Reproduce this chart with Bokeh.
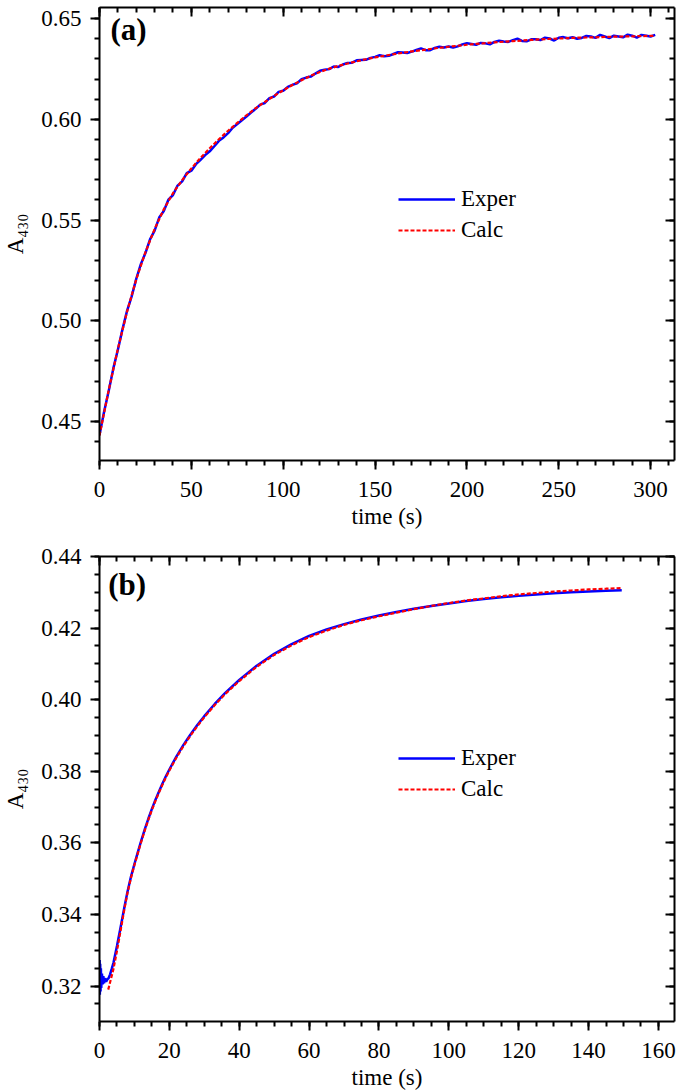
from bokeh.plotting import figure
from bokeh.layouts import column
from bokeh.models import (LinearAxis, SingleIntervalTicker, NumeralTickFormatter,
                          Range1d, Legend, LegendItem, Label)
from bokeh.embed import file_html
from bokeh.resources import INLINE

# ---------------- panel (a) data ----------------
t_calc_a = [0, 5, 10, 15, 20, 25, 30, 35, 40, 45, 50, 55, 60, 65, 70, 75, 80, 85, 90, 95,
            100, 105, 110, 115, 120, 125, 130, 135, 140, 145, 150, 155, 160, 165, 170,
            175, 180, 185, 190, 195, 200, 205, 210, 215, 220, 225, 230, 235, 240, 245,
            250, 255, 260, 265, 270, 275, 280, 285, 290, 295, 300, 302]
calc_a = [0.443, 0.4655, 0.486, 0.5045, 0.5205, 0.534, 0.5455, 0.5553, 0.5633, 0.5698,
          0.5756, 0.5808, 0.5856, 0.5901, 0.5943, 0.5982, 0.602, 0.6055, 0.6086, 0.6116,
          0.6144, 0.617, 0.6194, 0.6216, 0.6235, 0.6251, 0.6265, 0.6277, 0.6288, 0.6298,
          0.6307, 0.6315, 0.6323, 0.633, 0.6337, 0.6343, 0.6349, 0.6355, 0.636, 0.6365,
          0.637, 0.6374, 0.6378, 0.6382, 0.6385, 0.6388, 0.6391, 0.6394, 0.6397, 0.6399,
          0.6401, 0.6403, 0.6405, 0.6406, 0.6407, 0.6409, 0.641, 0.6411, 0.6412, 0.6413,
          0.6414, 0.6414]
t_exp_a = [0, 2.5, 5, 7.5, 10, 12.5, 15, 17.5, 20, 22.5, 25, 27.5, 30, 32.5, 35, 37.5,
           40, 42.5, 45, 47.5, 50, 52.5, 55, 57.5, 60, 62.5, 65, 67.5, 70, 72.5, 75, 77.5,
           80, 82.5, 85, 87.5, 90, 92.5, 95, 97.5, 100, 102.5, 105, 107.5, 110, 112.5,
           115, 117.5, 120, 122.5, 125, 127.5, 130, 132.5, 135, 137.5, 140, 142.5, 145,
           147.5, 150, 152.5, 155, 157.5, 160, 162.5, 165, 167.5, 170, 172.5, 175, 177.5,
           180, 182.5, 185, 187.5, 190, 192.5, 195, 197.5, 200, 202.5, 205, 207.5, 210,
           212.5, 215, 217.5, 220, 222.5, 225, 227.5, 230, 232.5, 235, 237.5, 240, 242.5,
           245, 247.5, 250, 252.5, 255, 257.5, 260, 262.5, 265, 267.5, 270, 272.5, 275,
           277.5, 280, 282.5, 285, 287.5, 290, 292.5, 295, 297.5, 300, 302.5]
exper_a = [0.4432, 0.4548, 0.4651, 0.4762, 0.4856, 0.4957, 0.5049, 0.5121, 0.5208, 0.5281,
           0.5336, 0.5404, 0.5447, 0.5512, 0.5545, 0.5601, 0.5624, 0.5671, 0.5692, 0.5733,
           0.5745, 0.5777, 0.5799, 0.5822, 0.5841, 0.5866, 0.5893, 0.591, 0.5931, 0.5958,
           0.5976, 0.5995, 0.6014, 0.6034, 0.6052, 0.6073, 0.6081, 0.6105, 0.6113, 0.6136,
           0.6142, 0.6161, 0.6171, 0.6179, 0.6199, 0.6207, 0.6212, 0.6227, 0.6241, 0.6246,
           0.6249, 0.6262, 0.626, 0.6272, 0.628, 0.6281, 0.6293, 0.6294, 0.6295, 0.6305,
           0.631, 0.6318, 0.6313, 0.6315, 0.6324, 0.6333, 0.6332, 0.6329, 0.6336, 0.6344,
           0.6352, 0.6343, 0.6343, 0.6354, 0.636, 0.6356, 0.6361, 0.6356, 0.6362, 0.6372,
           0.6378, 0.6374, 0.637, 0.6379, 0.6377, 0.6372, 0.6384, 0.639, 0.6386, 0.6384,
           0.6393, 0.64, 0.6389, 0.6387, 0.6397, 0.6397, 0.6393, 0.6405, 0.6401, 0.6391,
           0.6405, 0.6408, 0.6402, 0.6407, 0.64, 0.6404, 0.6414, 0.6411, 0.6404, 0.6419,
           0.6411, 0.6403, 0.6415, 0.6411, 0.6407, 0.642, 0.6415, 0.6405, 0.6419, 0.6415,
           0.6411, 0.6419]

# ---------------- panel (b) data ----------------
t_calc_b = [2.5, 4, 5, 6, 7, 8, 9, 10, 11, 12, 13, 14, 15, 16, 17, 18, 19, 20, 22, 24,
            26, 28, 30, 33, 36, 40, 45, 50, 55, 60, 65, 70, 75, 80, 85, 90, 95, 100, 105,
            110, 115, 120, 125, 130, 135, 140, 145, 149.5]
calc_b = [0.319, 0.3248, 0.3298, 0.3353, 0.3408, 0.346, 0.3502, 0.3538, 0.3572, 0.3605,
          0.3636, 0.3665, 0.3692, 0.3717, 0.374, 0.3762, 0.3783, 0.3802, 0.3838, 0.387,
          0.3899, 0.3926, 0.3951, 0.3985, 0.4016, 0.4052, 0.4092, 0.4125, 0.4152, 0.4175,
          0.4193, 0.4209, 0.4222, 0.4233, 0.4243, 0.4253, 0.4262, 0.427, 0.4277, 0.4283,
          0.4289, 0.4294, 0.4298, 0.4302, 0.4305, 0.4308, 0.431, 0.4312]
t_exp_b = [0, 0.05, 0.1, 0.2, 0.3, 0.4, 0.5, 0.7, 0.9, 1.1, 1.3, 1.6, 1.9, 2.2, 2.6, 3.0,
           3.5, 4, 5, 6, 7, 8, 9, 10, 11, 12, 13, 14, 15, 16, 17, 18, 19, 20, 22, 24, 26,
           28, 30, 33, 36, 40, 45, 50, 55, 60, 65, 70, 75, 80, 85, 90, 95, 100, 105, 110,
           115, 120, 125, 130, 135, 140, 145, 149.5]
exper_b = [0.3215, 0.3273, 0.3176, 0.3262, 0.3185, 0.325, 0.3195, 0.3235, 0.3205, 0.3228,
           0.3208, 0.3222, 0.3212, 0.3218, 0.3222, 0.3232, 0.3248, 0.3265, 0.3312, 0.3362,
           0.3414, 0.3463, 0.3505, 0.3541, 0.3575, 0.3608, 0.3639, 0.3668, 0.3695, 0.372,
           0.3743, 0.3765, 0.3786, 0.3805, 0.3841, 0.3873, 0.3902, 0.3929, 0.3954, 0.3988,
           0.4019, 0.4055, 0.4095, 0.4128, 0.4155, 0.4178, 0.4196, 0.4211, 0.4224, 0.4235,
           0.4245, 0.4254, 0.4262, 0.4269, 0.4276, 0.4281, 0.4286, 0.429, 0.4294, 0.4297,
           0.43, 0.4302, 0.4304, 0.4306]

x_label = "time (s)"
y_label = "A\u2084\u2083\u2080"
series_names = ["Exper", "Calc"]

FONT = "Liberation Serif"
BLUE = "#0000FF"
RED = "#FF0000"


def style_axis(ax, ticker, fmt, outer=True):
    ax.ticker = ticker
    ax.formatter = NumeralTickFormatter(format=fmt)
    ax.axis_line_width = 2
    ax.axis_line_color = "black"
    ax.major_tick_line_width = 2
    ax.minor_tick_line_width = 2
    ax.major_tick_line_color = "black"
    ax.minor_tick_line_color = "black"
    if outer:
        ax.major_tick_out = 9
        ax.major_tick_in = 0
        ax.minor_tick_out = 5
        ax.minor_tick_in = 0
        ax.major_label_text_font = FONT
        ax.major_label_text_font_size = "23px"
        ax.major_label_text_color = "black"
        ax.axis_label_text_font = FONT
        ax.axis_label_text_font_size = "23px"
        ax.axis_label_text_font_style = "normal"
        ax.axis_label_text_color = "black"
    else:
        ax.major_tick_out = 0
        ax.major_tick_in = 9
        ax.minor_tick_out = 0
        ax.minor_tick_in = 5
        ax.major_label_text_color = None
        ax.major_label_text_font_size = "1px"
        ax.major_label_standoff = 0
        ax.axis_label = None


def make_panel(height, xr, yr, xint, xminor, yint, yminor, top_border,
               t_e, y_e, t_c, y_c, tag, tag_x, tag_y, legend_loc):
    p = figure(width=677, height=height, x_range=Range1d(*xr), y_range=Range1d(*yr),
               output_backend="svg", toolbar_location=None,
               min_border_left=93, min_border_right=3, min_border_top=top_border,
               min_border_bottom=0)
    p.grid.visible = False
    p.outline_line_color = None
    p.background_fill_color = "white"
    p.border_fill_color = "white"

    style_axis(p.xaxis[0], SingleIntervalTicker(interval=xint, num_minor_ticks=xminor), "0")
    style_axis(p.yaxis[0], SingleIntervalTicker(interval=yint, num_minor_ticks=yminor), "0.00")
    p.xaxis[0].axis_label = x_label
    p.xaxis[0].major_label_standoff = 12
    p.xaxis[0].axis_label_standoff = 4
    p.yaxis[0].axis_label = y_label
    p.yaxis[0].major_label_standoff = 9
    p.yaxis[0].axis_label_standoff = 10

    top = LinearAxis()
    style_axis(top, SingleIntervalTicker(interval=xint, num_minor_ticks=xminor), "0", outer=False)
    p.add_layout(top, "above")
    right = LinearAxis()
    style_axis(right, SingleIntervalTicker(interval=yint, num_minor_ticks=yminor), "0.00", outer=False)
    p.add_layout(right, "right")

    r1 = p.line(t_e, y_e, line_color=BLUE, line_width=2.5)
    r2 = p.line(t_c, y_c, line_color=RED, line_width=2.2, line_dash="4 2")

    legend = Legend(items=[LegendItem(label=series_names[0], renderers=[r1]),
                           LegendItem(label=series_names[1], renderers=[r2])],
                    location=legend_loc, glyph_width=57, glyph_height=22,
                    label_height=22, label_standoff=6, spacing=5, padding=0, margin=0,
                    border_line_color=None, background_fill_alpha=0,
                    label_text_font=FONT, label_text_font_size="23px",
                    label_text_color="black")
    p.add_layout(legend)

    p.add_layout(Label(x=tag_x, y=tag_y, text=tag, text_font=FONT,
                       text_font_style="bold", text_font_size="31px",
                       text_baseline="top", text_color="black"))
    return p


pa = make_panel(531, (0, 313), (0.4306, 0.6555), 50, 5, 0.05, 5, 7,
                t_exp_a, exper_a, t_calc_a, calc_a, "(a)", 6.0, 0.6535, (299, 217))
pb = make_panel(561, (0, 164.6), (0.3101, 0.44), 20, 4, 0.02, 4, 25,
                t_exp_b, exper_b, t_calc_b, calc_b, "(b)", 2.5, 0.4372, (299, 219))

layout = column(pa, pb, spacing=0)
open("out.html", "w").write(file_html(layout, INLINE))
